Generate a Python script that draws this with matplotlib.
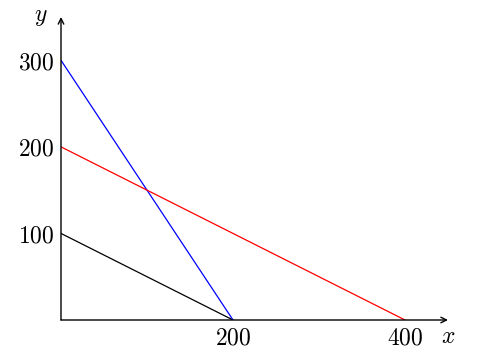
import matplotlib.pyplot as plt

plt.rcParams['mathtext.fontset'] = 'cm'
plt.rcParams['font.family'] = 'serif'
plt.rcParams['font.serif'] = ['DejaVu Serif']

# line endpoints (x values, y values)
black_x = [0, 200]
black_y = [100, 0]
blue_x = [0, 200]
blue_y = [300, 0]
red_x = [0, 400]
red_y = [200, 0]

xticks = [200, 400]
yticks = [100, 200, 300]

W, H = 481, 354
fig = plt.figure(figsize=(W / 100, H / 100), dpi=100)
x0, y0 = 61, 320
x1, y1 = 448, 17
ax = fig.add_axes([x0 / W, 1 - y0 / H, (x1 - x0) / W, (y0 - y1) / H])
ax.set_xlim(0, 450)
ax.set_ylim(0, 350)

ax.plot(black_x, black_y, color='black', lw=0.9)
ax.plot(blue_x, blue_y, color='blue', lw=0.9)
ax.plot(red_x, red_y, color='red', lw=0.9)

for s in ax.spines.values():
    s.set_visible(False)

ax.annotate('', xy=(1, 0), xytext=(0, 0), xycoords='axes fraction',
            arrowprops=dict(arrowstyle='->', lw=1.0, color='black', shrinkA=0, shrinkB=0))
ax.annotate('', xy=(0, 1), xytext=(0, 0), xycoords='axes fraction',
            arrowprops=dict(arrowstyle='->', lw=1.0, color='black', shrinkA=0, shrinkB=0))

ax.set_xticks(xticks)
ax.set_xticklabels(['$%d$' % v for v in xticks])
ax.set_yticks(yticks)
ax.set_yticklabels(['$%d$' % v for v in yticks])
ax.tick_params(length=0, labelsize=17, pad=5)

ax.text(1.0, -0.015, '$x$', transform=ax.transAxes, fontsize=17, ha='center', va='top')
ax.text(-0.035, 1.0, '$y$', transform=ax.transAxes, fontsize=17, ha='right', va='center')

fig.savefig('out.png', dpi=100)
